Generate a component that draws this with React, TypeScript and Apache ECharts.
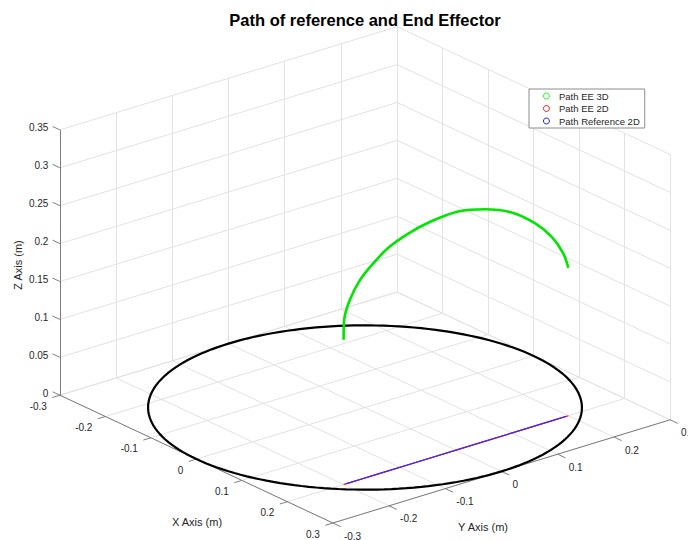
import React, { useEffect, useRef } from 'react';
import * as echarts from 'echarts';

// ---------- data ----------
const TITLE = 'Path of reference and End Effector';
const X_TITLE = 'X Axis (m)';
const Y_TITLE = 'Y Axis (m)';
const Z_TITLE = 'Z Axis (m)';

const X_TICKS = [-0.3, -0.2, -0.1, 0, 0.1, 0.2, 0.3];
const Y_TICKS = [-0.3, -0.2, -0.1, 0, 0.1, 0.2, 0.3];
const Z_TICKS = [0, 0.05, 0.1, 0.15, 0.2, 0.25, 0.3, 0.35];
const X_TICK_LABELS = ['-0.3', '-0.2', '-0.1', '0', '0.1', '0.2', '0.3'];
const Y_TICK_LABELS = ['-0.3', '-0.2', '-0.1', '0', '0.1', '0.2', '0.3'];
const Z_TICK_LABELS = ['0', '0.05', '0.1', '0.15', '0.2', '0.25', '0.3', '0.35'];

// workspace circle in the z = 0 plane
const CIRCLE_CENTER = [0, 0];
const CIRCLE_RADIUS = 0.3;

// end effector path (3D)
const EE_X = 0.2;
const EE_Y = [-0.2, -0.199, -0.189, -0.171, -0.15, -0.121, -0.085, -0.043, 0.004, 0.052, 0.099, 0.141, 0.17, 0.191, 0.2];
const EE_Z = [0.191, 0.217, 0.241, 0.263, 0.278, 0.294, 0.305, 0.312, 0.314, 0.306, 0.291, 0.267, 0.243, 0.216, 0.195];

// reference path (2D)
const REF_X = 0.2;
const REF_Y = [-0.196, 0.196];

const SERIES_NAMES = ['Path EE 3D', 'Path EE 2D', 'Path Reference 2D'];
const SERIES_COLORS = ['#00ff00', '#ff0000', '#0000ff'];

// ---------- view (layout) ----------
const VIEW = {
  origin: [365, 407.5],
  ex: [455, 213],
  ey: [562, -172],
  ez: [0, -758],
};
const W = 688;
const H = 540;
const FONT = "'Liberation Sans', Arial, Helvetica, sans-serif";
const TXT = '#262626';

function P(x: number, y: number, z: number): [number, number] {
  return [
    VIEW.origin[0] + x * VIEW.ex[0] + y * VIEW.ey[0] + z * VIEW.ez[0],
    VIEW.origin[1] + x * VIEW.ex[1] + y * VIEW.ey[1] + z * VIEW.ez[1],
  ];
}

function buildOption() {
  const xMin = X_TICKS[0], xMax = X_TICKS[X_TICKS.length - 1];
  const yMin = Y_TICKS[0], yMax = Y_TICKS[Y_TICKS.length - 1];
  const zMin = Z_TICKS[0], zMax = Z_TICKS[Z_TICKS.length - 1];

  const gridSegs: any[] = [];
  const seg = (a: [number, number, number], b: [number, number, number]) => ({
    coords: [P(a[0], a[1], a[2]), P(b[0], b[1], b[2])],
  });
  // floor
  X_TICKS.forEach((x) => gridSegs.push(seg([x, yMin, zMin], [x, yMax, zMin])));
  Y_TICKS.forEach((y) => gridSegs.push(seg([xMin, y, zMin], [xMax, y, zMin])));
  // left back wall (x = xMin)
  Y_TICKS.forEach((y) => gridSegs.push(seg([xMin, y, zMin], [xMin, y, zMax])));
  Z_TICKS.forEach((z) => gridSegs.push(seg([xMin, yMin, z], [xMin, yMax, z])));
  // right back wall (y = yMax)
  X_TICKS.forEach((x) => gridSegs.push(seg([x, yMax, zMin], [x, yMax, zMax])));
  Z_TICKS.forEach((z) => gridSegs.push(seg([xMin, yMax, z], [xMax, yMax, z])));

  const axisSegs: any[] = [];
  axisSegs.push(seg([xMin, yMin, zMin], [xMin, yMin, zMax]));
  axisSegs.push(seg([xMin, yMin, zMin], [xMax, yMin, zMin]));
  axisSegs.push(seg([xMax, yMin, zMin], [xMax, yMax, zMin]));
  X_TICKS.forEach((x) => axisSegs.push(seg([x, yMin, zMin], [x, yMin - 0.0135, zMin])));
  Y_TICKS.forEach((y) => axisSegs.push(seg([xMax, y, zMin], [xMax + 0.017, y, zMin])));
  Z_TICKS.forEach((z) => axisSegs.push(seg([xMin, yMin, z], [xMin - 0.016, yMin, z])));

  const circle: [number, number][] = [];
  for (let i = 0; i <= 360; i += 2) {
    const t = (i * Math.PI) / 180;
    circle.push(P(CIRCLE_CENTER[0] + CIRCLE_RADIUS * Math.cos(t), CIRCLE_CENTER[1] + CIRCLE_RADIUS * Math.sin(t), 0));
  }

  const ee3d = EE_Y.map((y, i) => P(EE_X, y, EE_Z[i]));
  const ee2d = EE_Y.map((y) => P(EE_X, y, 0));
  const ref2d = REF_Y.map((y) => P(REF_X, y, 0));

  const graphics: any[] = [];
  const text = (x: number, y: number, t: string, align: string, valign: string, size = 10, rot = 0) => ({
    type: 'text',
    x,
    y,
    rotation: rot,
    silent: true,
    style: { text: t, fill: TXT, fontSize: size, fontFamily: FONT, align, verticalAlign: valign },
  });
  X_TICKS.forEach((x, i) => {
    const p = P(x, yMin, zMin);
    graphics.push(text(p[0] - 13, p[1] + 11, X_TICK_LABELS[i], 'right', 'middle'));
  });
  Y_TICKS.forEach((y, i) => {
    const p = P(xMax, y, zMin);
    graphics.push(text(p[0] + 11, p[1] + 13, Y_TICK_LABELS[i], 'left', 'middle'));
  });
  Z_TICKS.forEach((z, i) => {
    const p = P(xMin, yMin, z);
    graphics.push(text(p[0] - 11.5, p[1] - 2, Z_TICK_LABELS[i], 'right', 'middle'));
  });
  graphics.push(text(197, 522, X_TITLE, 'center', 'middle', 11));
  graphics.push(text(483, 527, Y_TITLE, 'center', 'middle', 11));
  graphics.push(text(18, 265, Z_TITLE, 'center', 'middle', 11, Math.PI / 2));

  return {
    animation: false,
    backgroundColor: '#fff',
    title: {
      text: TITLE,
      left: 365,
      top: 11,
      textAlign: 'center',
      padding: 0,
      textStyle: { fontSize: 16.5, fontWeight: 'bold', color: '#000', fontFamily: FONT },
    },
    legend: {
      data: SERIES_NAMES.map((name, i) => ({
        name,
        icon: 'circle',
        itemStyle: { color: '#fff', borderColor: SERIES_COLORS[i], borderWidth: 0.9 },
      })),
      orient: 'vertical',
      left: 529,
      top: 89,
      itemWidth: 15,
      itemHeight: 6,
      itemGap: 0.5,
      padding: [1, 5, 1, 14],
      backgroundColor: '#fff',
      borderColor: '#8c8c8c',
      borderWidth: 1,
      borderRadius: 0,
      selectedMode: false,
      textStyle: { fontSize: 9.5, color: TXT, fontFamily: FONT, lineHeight: 12 },
    },
    grid: { left: 0, top: 0, width: W, height: H, containLabel: false },
    xAxis: { type: 'value', min: 0, max: W, show: false },
    yAxis: { type: 'value', min: 0, max: H, inverse: true, show: false },
    graphic: graphics,
    series: [
      {
        name: 'grid',
        type: 'lines',
        coordinateSystem: 'cartesian2d',
        silent: true,
        z: 1,
        lineStyle: { color: '#e2e2e2', width: 1, opacity: 1 },
        data: gridSegs,
      },
      {
        name: 'axes',
        type: 'lines',
        coordinateSystem: 'cartesian2d',
        silent: true,
        z: 2,
        lineStyle: { color: '#707070', width: 0.9, opacity: 1 },
        data: axisSegs,
      },
      {
        name: 'circle',
        type: 'line',
        z: 3,
        symbol: 'none',
        silent: true,
        lineStyle: { color: '#000', width: 2.2 },
        itemStyle: { color: '#000' },
        data: circle,
      },
      {
        name: SERIES_NAMES[1],
        type: 'line',
        z: 4,
        symbol: 'none',
        color: SERIES_COLORS[1],
        lineStyle: { color: SERIES_COLORS[1], width: 1.2 },
        itemStyle: { color: SERIES_COLORS[1] },
        data: ee2d,
      },
      {
        name: SERIES_NAMES[2],
        type: 'line',
        z: 5,
        symbol: 'none',
        color: SERIES_COLORS[2],
        lineStyle: { color: '#3a2cff', width: 1.2 },
        itemStyle: { color: SERIES_COLORS[2] },
        data: ref2d,
      },
      {
        name: SERIES_NAMES[0],
        type: 'line',
        z: 6,
        symbol: 'none',
        smooth: 0.3,
        color: SERIES_COLORS[0],
        lineStyle: { color: '#00e600', width: 2.6 },
        itemStyle: { color: SERIES_COLORS[0] },
        data: ee3d,
      },
    ],
  };
}

export default function App() {
  const ref = useRef<HTMLDivElement>(null);
  useEffect(() => {
    document.body.style.margin = '0';
    const chart = echarts.init(ref.current as HTMLDivElement, null, { renderer: 'svg' });
    chart.setOption(buildOption() as any);
    return () => chart.dispose();
  }, []);
  return <div ref={ref} style={{ width: W, height: H }} />;
}
